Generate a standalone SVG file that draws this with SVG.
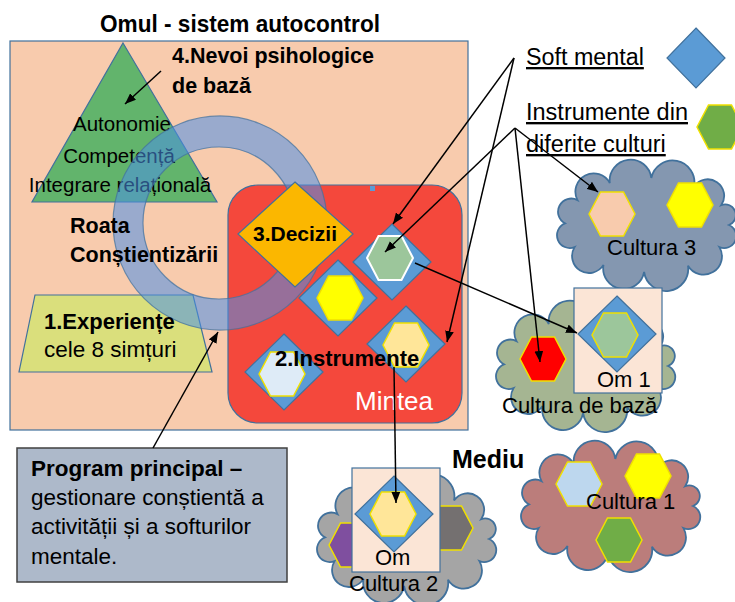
<svg xmlns="http://www.w3.org/2000/svg" xmlns:xlink="http://www.w3.org/1999/xlink" width="735" height="602" viewBox="0 0 735 602">
<defs>
<style>
text{font-family:"Liberation Sans",Arial,sans-serif;fill:#000}
.b{font-weight:bold}
.t20{font-size:20.5px}
.t22{font-size:22px}
.t23{font-size:23.3px}
.b21{font-size:21.5px;font-weight:bold}
.ul{text-decoration:underline}
.line{stroke:#000;stroke-width:1.5;fill:none}
.arr{marker-end:url(#ah)}
.dia{fill:#5b9bd5;stroke:#41719c;stroke-width:1.2}
.hx{stroke:#f0e000;stroke-width:1.5}
.cloud{stroke:#41719c;stroke-width:1.8}
</style>
<marker id="ah" viewBox="0 0 10 8" refX="10" refY="4" markerWidth="11" markerHeight="9" orient="auto" markerUnits="userSpaceOnUse">
<path d="M0,0 L10,4 L0,8 Z" fill="#000"/>
</marker>
<path id="hex" d="M-23,0 L-11.5,-22 L11.5,-22 L23,0 L11.5,22 L-11.5,22 Z"/>
<path id="dm" d="M0,-38 L39,0 L0,38 L-39,0 Z"/>
<path id="cl" d="M172,63 A1,1 0 0,1 162.4,85.1 A1,1 0 0,1 131,103.7 A1,1 0 0,1 87.1,110 A1,1 0 0,1 46.5,102.9 A1,1 0 0,1 17.6,85.1 A1,1 0 0,1 8,61.4 A1,1 0 0,1 20.5,38.1 A1,1 0 0,1 52.8,21.1 A1,1 0 0,1 94.3,16 A1,1 0 0,1 137,24.5 A1,1 0 0,1 164.3,43.1 A1,1 0 0,1 172,63 Z"/>
</defs>
<rect width="735" height="602" fill="#fff"/>

<g id="title"><text x="240" y="32" class="b" font-size="24" text-anchor="middle" textLength="280" lengthAdjust="spacingAndGlyphs">Omul - sistem autocontrol</text></g>

<g id="omul">
<rect x="10" y="41" width="458" height="389" fill="#f8cbad" stroke="#41719c" stroke-width="1.2"/>
</g>

<g id="nevoi">
<polygon points="123,43 217,202 32,202" fill="#62b46c" stroke="#41719c" stroke-width="1.2"/>
<text x="122" y="131" class="t20" text-anchor="middle">Autonomie</text>
<text x="119" y="163" class="t20" text-anchor="middle">Competență</text>
<text x="120" y="192" class="t20" text-anchor="middle">Integrare relațională</text>
</g>

<g id="experiente">
<polygon points="35,295 193,295 212,372 19,372" fill="#dadf7c" stroke="#41719c" stroke-width="1.2"/>
</g>

<g id="mintea">
<rect x="228" y="185" width="234" height="238" rx="30" ry="30" fill="#f4483c" stroke="#41719c" stroke-width="1.2"/>
<rect x="370" y="186" width="5" height="5" fill="#5b9bd5"/>
</g>

<g id="roata">
<path d="M327,223 A107,107 0 1,0 113,223 A107,107 0 1,0 327,223 Z M295,223 A76,76 0 1,1 143,223 A76,76 0 1,1 295,223 Z" fill="#4a90e8" fill-opacity="0.55" fill-rule="evenodd" stroke="#41719c" stroke-opacity="0.7" stroke-width="1.2"/>
<text x="70" y="233" class="b21">Roata</text>
<text x="70" y="262" class="b21">Conștientizării</text>
</g>

<g id="experiente-text">
<text x="44" y="329" class="b" font-size="22">1.Experiențe</text>
<text x="44" y="357" font-size="22.5">cele 8 simțuri</text>
</g>

<g id="nevoi-label">
<text x="172" y="63" class="b21">4.Nevoi psihologice</text>
<text x="172" y="93" class="b21">de bază</text>
</g>

<g id="decizii">
<polygon points="295,182 353,234 295,287 238,234" fill="#fbb700" stroke="#41719c" stroke-width="1.2"/>
<text x="295" y="241" class="b" font-size="21" text-anchor="middle">3.Decizii</text>
</g>

<g id="soft-a">
<use xlink:href="#dm" x="392" y="262" class="dia"/>
<use xlink:href="#hex" x="390" y="258" fill="#9cc69b" stroke="#fff" stroke-width="2"/>
</g>
<g id="soft-b">
<use xlink:href="#dm" x="338" y="298" class="dia"/>
<use xlink:href="#hex" x="340" y="298" fill="#ffff00" class="hx"/>
</g>
<g id="soft-c">
<use xlink:href="#dm" x="406" y="344" class="dia"/>
<use xlink:href="#hex" x="406" y="345" fill="#ffe699" class="hx"/>
</g>
<g id="soft-d">
<use xlink:href="#dm" x="284" y="372" class="dia"/>
<use xlink:href="#hex" x="282" y="374" fill="#deebf7" class="hx"/>
</g>

<g id="mintea-labels">
<text x="275" y="366" class="b" font-size="22">2.Instrumente</text>
<text x="355" y="410" font-size="26" style="fill:#fff">Mintea</text>
</g>

<g id="legend">
<text x="526" y="65" class="t23 ul">Soft mental</text>
<polygon points="696,28 725,58 696,88 667,58" fill="#5b9bd5" stroke="#41719c" stroke-width="1.2"/>
<text x="526" y="120" class="ul" font-size="23.5">Instrumente din</text>
<text x="526" y="152" class="ul" font-size="23.5">diferite culturi</text>
<use xlink:href="#hex" x="720" y="127" fill="#70ad47" class="hx"/>
</g>

<g id="cultura3">
<use xlink:href="#cl" x="557" y="162" fill="#8497b0" class="cloud"/>
<use xlink:href="#hex" x="612" y="214" fill="#f8cbad" class="hx"/>
<use xlink:href="#hex" x="690" y="205" fill="#ffff00" class="hx"/>
<text x="607" y="255" class="t22">Cultura 3</text>
</g>

<g id="cultura-baza">
<use xlink:href="#cl" x="496" y="303" fill="#a5b592" class="cloud"/>
<use xlink:href="#hex" x="543" y="359" fill="#ff0000" class="hx"/>
</g>

<g id="om1">
<rect x="574" y="288" width="88" height="105" fill="#fbe5d6" stroke="#41719c" stroke-width="1.2"/>
<use xlink:href="#dm" x="617" y="334" class="dia"/>
<use xlink:href="#hex" x="615" y="335" fill="#9cc69b" class="hx"/>
<text x="597" y="387" class="t22">Om 1</text>
</g>
<g id="cultura-baza-label"><text x="502" y="413" class="t22">Cultura de bază</text></g>

<g id="mediu"><text x="452" y="468" class="b" font-size="25">Mediu</text></g>

<g id="cultura1">
<use xlink:href="#cl" x="521" y="443" fill="#bb7d7b" class="cloud"/>
<use xlink:href="#hex" x="579" y="484" fill="#bdd7ee" class="hx"/>
<use xlink:href="#hex" x="648" y="476" fill="#ffff00" class="hx"/>
<use xlink:href="#hex" x="619" y="540" fill="#70ad47" class="hx"/>
<text x="586" y="509" class="t22">Cultura 1</text>
</g>

<g id="cultura2">
<use xlink:href="#cl" x="317" y="476" fill="#a5a5a5" class="cloud"/>
<use xlink:href="#hex" x="352" y="545" fill="#7f4f9f" class="hx"/>
<use xlink:href="#hex" x="450" y="528" fill="#747070" class="hx"/>
</g>
<g id="om2">
<rect x="352" y="468" width="88" height="104" fill="#fbe5d6" stroke="#41719c" stroke-width="1.2"/>
<use xlink:href="#dm" x="394" y="514" class="dia"/>
<use xlink:href="#hex" x="393" y="514" fill="#ffe699" class="hx"/>
<text x="375" y="565" class="t22">Om</text>
</g>
<g id="cultura2-label"><text x="349" y="591" class="t22">Cultura 2</text></g>

<g id="program">
<rect x="17" y="448" width="270" height="134" fill="#adb9ca" stroke="#404040" stroke-width="1.5"/>
<text x="31" y="476" class="b" font-size="22.5">Program principal –</text>
<text x="31" y="505" font-size="22.5">gestionare conștientă a</text>
<text x="31" y="534" font-size="22.5">activității și a softurilor</text>
<text x="31" y="564" font-size="22.5">mentale.</text>
</g>

<g id="connectors">
<line x1="161" y1="71" x2="125" y2="104" class="line arr"/>
<line x1="153" y1="448" x2="218" y2="332" class="line arr"/>
<line x1="514" y1="58" x2="393" y2="224" class="line arr"/>
<line x1="514" y1="58" x2="447" y2="342" class="line arr"/>
<line x1="515" y1="128" x2="385" y2="252" class="line arr"/>
<line x1="515" y1="128" x2="598" y2="192" class="line arr"/>
<line x1="515" y1="128" x2="540" y2="362" class="line arr"/>
<line x1="415" y1="263" x2="577" y2="333" class="line arr"/>
<line x1="394" y1="367" x2="396" y2="503" class="line arr"/>
</g>
</svg>
